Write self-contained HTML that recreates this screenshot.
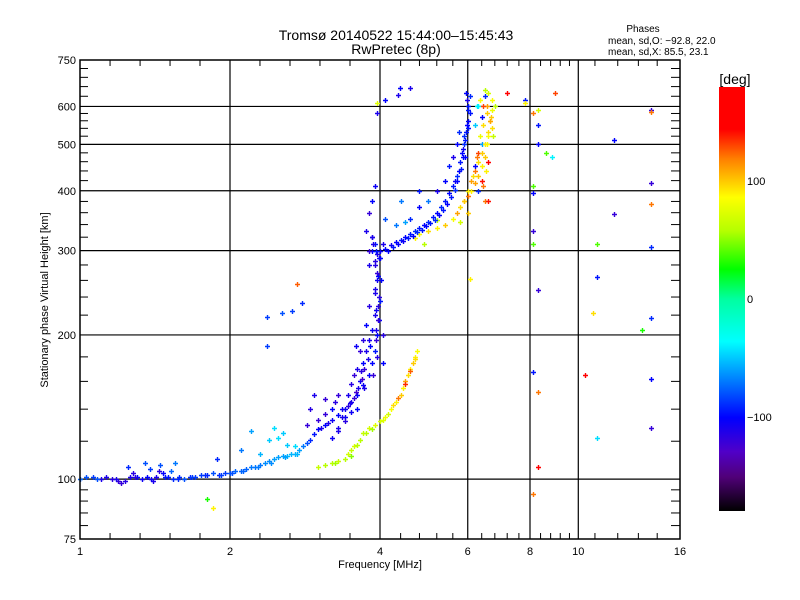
<!DOCTYPE html>
<html><head><meta charset="utf-8"><style>
body{margin:0;background:#fff;}
svg{display:block;font-family:"Liberation Sans",sans-serif;}
</style></head><body>
<svg id="chart" width="800" height="600" viewBox="0 0 800 600" xmlns="http://www.w3.org/2000/svg">
<defs>
<linearGradient id="cbar" x1="0" y1="0" x2="0" y2="1">
<stop offset="0" stop-color="#ff0000"/><stop offset="0.10" stop-color="#ff0000"/>
<stop offset="0.17" stop-color="#ff8000"/><stop offset="0.26" stop-color="#ffff00"/>
<stop offset="0.34" stop-color="#b4ff00"/><stop offset="0.43" stop-color="#00ff00"/>
<stop offset="0.50" stop-color="#00ffa0"/><stop offset="0.60" stop-color="#00ffff"/>
<stop offset="0.69" stop-color="#0080ff"/><stop offset="0.78" stop-color="#0000ff"/>
<stop offset="0.86" stop-color="#5000c8"/><stop offset="0.92" stop-color="#500078"/>
<stop offset="1" stop-color="#000000"/>
</linearGradient>
</defs>
<text x="396" y="40" font-size="14" text-anchor="middle">Tromsø 20140522 15:44:00–15:45:43</text>
<text x="396" y="54" font-size="14" text-anchor="middle">RwPretec (8p)</text>
<text x="643" y="32" font-size="10" text-anchor="middle">Phases</text>
<text x="608" y="44" font-size="10">mean, sd,O: −92.8, 22.0</text>
<text x="608" y="55" font-size="10">mean, sd,X:  85.5, 23.1</text>
<g id="grid"></g>
<g id="points"></g>
<rect x="80" y="60" width="600" height="479" fill="none" stroke="#000" stroke-width="1.5"/>
<g id="axes"></g>
<text x="380" y="568" font-size="11" text-anchor="middle">Frequency [MHz]</text>
<text x="48" y="300" font-size="11" text-anchor="middle" transform="rotate(-90 48 300)">Stationary phase Virtual Height [km]</text>
<rect x="719" y="87" width="26" height="424" fill="url(#cbar)"/>
<text x="735" y="84" font-size="14" text-anchor="middle">[deg]</text>
<g id="cbticks"></g>
</svg>
<script>
const xTickLabels=[1,2,4,6,8,10,16];
const xGrid=[2,4,6,8,10];
const xMinor=[1.149,1.32,1.516,1.741,2.297,2.639,3.031,3.482,4.4,4.8,5.2,5.6,6.4,6.8,7.2,7.6,8.4,8.8,9.2,9.6,10.8,12,13.2,14.4];
const yTickLabels=[75,100,200,300,400,500,600,750];
const yGrid=[100,200,300,400,500,600];
const yMinor=[80,85,90,95,120,140,160,180,220,240,260,280,320,340,360,380,420,440,460,480,520,540,560,580,630,660,690,720];
const cbTicks=[100,0,-100];
const freqs=[1.00,1.03,1.06,1.10,1.13,1.16,1.19,1.21,1.23,1.26,1.28,1.30,1.33,1.36,1.40,1.42,1.44,1.47,1.50,1.54,1.58,1.62,1.66,1.70,1.75,1.80,1.85,1.90,1.95,2.0,2.05,2.10,2.15,2.20,2.25,2.30,2.35,2.40,2.45,2.50,2.55,2.6,2.65,2.70,2.75,2.80,2.85,2.90,
2.95,3.0,3.1,3.2,3.3,3.4,3.5,3.6,3.7,3.8,3.85,3.9,3.95,3.98,4.0,
1.55,1.35,1.45,2.1,2.3,2.4,2.5,2.55,2.6,2.7,2.2,2.45,1.25,1.38,1.52,1.88,
2.85,2.9,3.0,3.05,3.1,3.15,3.2,3.25,3.3,3.35,3.45,3.5,3.55,3.6,3.65,3.7,3.75,3.8,3.85,3.9,3.75,3.7,3.65,3.8,3.9,3.95,4.05,4.05,3.6,3.4,3.3,3.1,2.95,3.95,3.88,3.72,3.58,
3.0,3.1,3.2,3.3,3.4,3.45,3.5,3.55,3.6,3.65,3.7,3.8,3.9,4.0,4.1,4.2,4.3,4.4,4.45,4.5,4.55,4.6,4.65,4.7,4.75,3.75,3.85,4.05,4.25,4.35,4.5,4.6,4.7,3.25,3.5,4.15,
4.1,4.2,4.3,4.4,4.5,4.6,4.7,4.8,4.9,5.0,5.1,5.2,5.3,5.4,5.5,5.6,5.7,5.8,5.85,5.9,5.95,6.0,6.0,6.05,5.95,6.05,5.9,5.75,5.65,5.98,5.92,6.02,5.88,
3.8,3.85,3.9,3.95,4.0,3.9,3.8,3.85,3.75,3.8,3.85,3.9,4.1,4.3,4.5,4.6,4.8,5.0,5.2,5.4,4.4,4.8,5.5,5.6,5.7,5.75,6.2,6.3,6.4,6.2,6.3,6.5,6.4,4.0,4.05,
4.7,4.8,5.0,5.2,5.4,5.6,5.7,5.8,5.9,6.0,6.1,6.2,6.3,6.4,6.5,6.55,6.6,6.65,6.7,6.7,6.6,6.5,6.3,6.4,6.45,6.55,6.6,6.35,6.5,6.0,5.8,5.2,4.9,6.75,6.8,6.25,6.6,7.2,6.68,6.52,6.45,
3.95,4.1,4.34,4.39,4.6,3.95,
7.8,7.8,8.1,8.3,8.3,8.3,8.6,8.85,9.0,11.8,14.0,14.0,8.1,8.1,11.8,14.0,14.0,8.1,8.1,10.9,14.0,6.06,10.9,8.3,10.7,14.0,13.4,8.1,10.3,14.0,8.3,14.0,10.9,8.3,8.1,1.8,1.85,
2.37,2.54,2.66,2.79,2.37,2.73,
3.92,3.96,3.93,3.99,3.91,3.97,3.94,3.9,3.98,3.93,3.88,3.96,3.92,4.02,3.86,
3.45,3.55,3.62,3.68,3.5,3.4,3.3,3.2,3.72,3.78,3.82,3.66,3.58,3.48,3.35,
4.15,4.25,4.35,4.45,4.55,4.65,4.75,4.85,4.95,5.05,5.15,5.25,5.35,5.45,5.55,5.65,5.72,5.82,5.88,5.93,5.97,6.0,
5.9,6.0,6.1,6.2,6.3,6.4,6.5,6.6,6.7,6.65,6.55,6.45,6.35,6.25,6.15,
1.08,1.18,1.29,1.39,1.48,1.57,1.68,1.78,1.92,2.02,2.12,2.28,2.42,2.58,2.72];
const heights=[100,101,101,100,101,100,99,98,99,101,103,101,100,101,99,101,104,103,101,100,101,100,101,101,102,102,103,102,103,103,104,104,105,106,106,107,108,109,110,111,112,112,113,113,115,117,119,121,
124,127,130,133,136,140,145,150,157,165,175,185,200,215,235,
108,108,107,115,113,121,122,125,118,117,126,128,106,105,104,110,
130,140,133,128,137,131,140,145,150,135,150,158,165,170,160,175,185,195,205,220,210,195,185,230,245,260,200,175,140,135,128,147,150,180,165,155,190,
106,107,108,109,110,113,115,117,118,121,125,128,130,132,135,140,145,150,155,160,165,170,175,180,185,125,127,133,143,148,158,168,178,108,112,137,
303,308,312,316,320,325,330,335,340,345,352,360,370,380,395,410,430,460,480,500,530,560,600,630,640,580,520,440,420,620,470,540,490,
280,300,310,295,290,285,300,320,330,360,380,410,350,340,345,350,370,380,400,420,380,400,450,470,500,530,450,400,500,550,600,630,570,300,310,
318,325,330,335,340,350,360,370,380,390,400,415,430,450,470,500,530,560,590,620,640,650,480,420,550,600,460,520,380,360,345,348,310,520,600,600,380,640,570,440,410,
580,620,633,655,657,610,
620,610,580,590,550,500,480,470,640,510,590,583,410,395,357,415,375,330,310,310,305,262,264,248,222,217,205,167,165,162,152,128,122,106,93,91,87,
218,222,224,233,190,255,
205,215,225,240,250,265,270,280,290,300,310,230,195,260,320,
142,148,155,162,138,132,126,122,170,178,190,168,152,144,140,
300,305,310,314,318,322,328,332,337,342,348,356,365,375,388,402,420,445,470,510,550,590,
380,400,420,440,460,480,500,520,540,560,580,600,620,470,430,
100,100,101,100,101,100,101,102,102,103,104,106,108,111,113];
const phases=[-75,-80,-85,-110,-110,-115,-120,-120,-115,-110,-115,-100,-105,-100,-110,-110,-115,-100,-95,-90,-90,-80,-90,-85,-85,-90,-80,-90,-85,-80,-75,-75,-75,-70,-70,-70,-65,-65,-60,-60,-60,-55,-55,-55,-60,-70,-80,-90,
-95,-100,-100,-105,-100,-105,-110,-100,-105,-100,-100,-95,-100,-100,-95,
-70,-80,-80,-70,-55,-50,-45,-50,-50,-45,-60,-45,-90,-85,-75,-90,
-120,-115,-120,-110,-120,-110,-100,-115,-120,-110,-110,-115,-120,-110,-105,-100,-110,-110,-105,-110,-100,-115,-120,-115,-110,-105,-115,-100,-100,-105,-110,-120,-110,-115,-120,-110,-105,
65,60,60,65,60,70,65,70,60,60,65,70,75,70,80,85,90,100,90,110,95,90,100,90,85,60,55,75,95,120,135,125,95,55,50,70,
-100,-105,-100,-95,-100,-95,-90,-95,-100,-90,-95,-100,-90,-95,-100,-95,-90,-95,-100,-90,-95,-100,-95,-90,-100,-95,-90,-100,-105,-110,-100,-95,-105,
-110,-100,-95,-110,-100,-115,-120,-115,-110,-120,-100,-105,-80,-70,-60,-90,-100,-70,-110,-100,-70,-95,-95,-110,-100,-90,-100,-90,-60,-50,-40,-90,-100,-105,-110,
90,85,95,90,100,85,110,95,100,120,90,110,100,90,100,85,95,90,80,85,70,60,130,140,95,110,150,80,120,100,70,60,60,65,60,-40,140,170,100,90,120,
-110,-100,-110,-100,-110,75,
-95,90,120,70,-95,-100,40,-40,130,-100,-120,120,40,-100,-120,-120,120,-120,40,40,-90,90,-95,-120,95,-90,30,-95,150,-100,120,-120,-45,160,120,30,90,
-85,-80,-85,-90,-85,125,
-110,-120,-105,-115,-110,-100,-120,-115,-105,-95,-110,-115,-120,-100,-110,
-115,-120,-110,-125,-105,-115,-110,-105,-120,-110,-100,-115,-125,-110,-105,
-100,-95,-100,-105,-95,-100,-90,-95,-100,-95,-90,-100,-95,-100,-95,-90,-100,-95,-100,-95,-100,-95,
100,90,110,120,95,100,90,85,95,110,100,130,85,120,95,
-80,-110,-115,-105,-95,-90,-85,-90,-85,-80,-75,-70,-65,-60,-55];

const X=f=>80+150*Math.log2(f);
const Y=h=>539-479*Math.log10(h/75);
const NS='http://www.w3.org/2000/svg';
function mk(tag,attrs,parent){const e=document.createElementNS(NS,tag);for(const k in attrs)e.setAttribute(k,attrs[k]);parent.appendChild(e);return e;}
const grid=document.getElementById('grid'),axes=document.getElementById('axes'),pts=document.getElementById('points'),cbt=document.getElementById('cbticks');
xGrid.forEach(f=>{const l=mk('line',{x1:X(f),x2:X(f),y1:60,y2:539,stroke:'#000','stroke-width':1.2},grid);

});
yGrid.forEach(h=>{const l=mk('line',{x1:80,x2:680,y1:Y(h),y2:Y(h),stroke:'#000','stroke-width':1.2},grid);

});
xMinor.forEach(f=>{const x=X(f);
const a=mk('line',{x1:x,x2:x,y1:539,y2:533,stroke:'#000'},axes);


const b=mk('line',{x1:x,x2:x,y1:60,y2:66,stroke:'#000'},axes);

});
yMinor.forEach(h=>{const y=Y(h);
const a=mk('line',{x1:80,x2:88,y1:y,y2:y,stroke:'#000'},axes);


const b=mk('line',{x1:671,x2:680,y1:y,y2:y,stroke:'#000'},axes);

});
xTickLabels.forEach(f=>{const t=mk('text',{x:X(f),y:555,'font-size':11,'text-anchor':'middle'},axes);t.textContent=f;

});
yTickLabels.forEach(h=>{const t=mk('text',{x:76,y:Y(h)+4,'font-size':11,'text-anchor':'end'},axes);t.textContent=h;

});
const CY=p=>87+(180-p)/360*424;
cbTicks.forEach(p=>{const t=mk('text',{x:747,y:CY(p)+4,'font-size':11},cbt);t.textContent=(p<0?'−':'')+Math.abs(p);

});
const stops=[[180,[255,0,0]],[143,[255,0,0]],[118,[255,128,0]],[87,[255,255,0]],[58,[180,255,0]],[26,[0,255,0]],[0,[0,255,160]],[-37,[0,255,255]],[-68,[0,128,255]],[-100,[0,0,255]],[-130,[80,0,200]],[-150,[80,0,120]],[-180,[0,0,0]]];
function col(p){for(let i=0;i<stops.length-1;i++){const[a,ca]=stops[i],[b,cb]=stops[i+1];if(p<=a&&p>=b){const t=(a-p)/(a-b);return 'rgb('+ca.map((v,j)=>Math.round(v+(cb[j]-v)*t)).join(',')+')';}}return p>0?'#f00':'#000';}
for(let i=0;i<freqs.length;i++){const x=Math.round(X(freqs[i]))+0.5,y=Math.round(Y(heights[i]))+0.5;
const m=mk('path',{d:`M${x-2.5} ${y}H${x+2.5}M${x} ${y-2.5}V${y+2.5}`,stroke:col(phases[i]),'stroke-width':1.4,fill:'none'},pts);

}
</script>
</body></html>
